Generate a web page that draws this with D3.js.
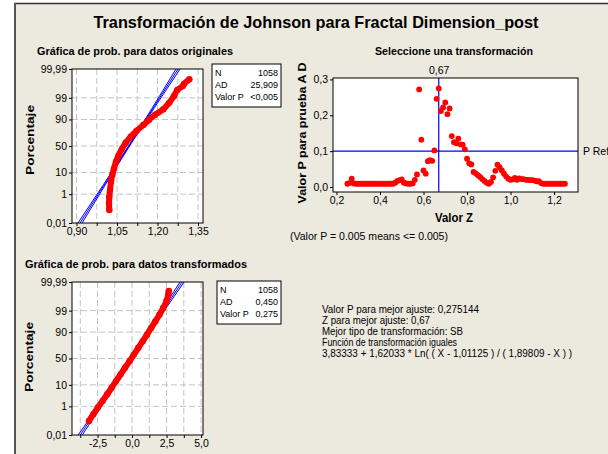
<!DOCTYPE html>
<html><head><meta charset="utf-8">
<script src="https://cdn.jsdelivr.net/npm/d3@7"></script>
<style>
body{margin:0;background:#fff}
svg{display:block}
text{font-family:"Liberation Sans",Arial,sans-serif;fill:#000}
</style>
</head><body>
<svg id="c" width="608" height="454"></svg>
<script>
// ---------------- DATA ----------------
const probTicks = [0.01, 1, 10, 50, 90, 99, 99.99];
const probLabels = ["0,01", "1", "10", "50", "90", "99", "99,99"];

// original data probability plot (value, percent)
const origValues   = [1.0215,1.0204,1.0215,1.024,1.0278,1.0326,1.0389,1.0463,1.0548,1.0674,1.0822,1.1007,1.123,1.1474,1.168,1.19,1.2215,1.2437,1.2611,1.2733,1.2933,1.298,1.3178];
const origPercents = [0.1,0.28,0.71,1.66,4.3,8.1,14,22.4,31.6,43.6,56.4,67.4,77,84.4,89.6,93.3,96.2,98.2,99.22,99.66,99.81,99.865,99.936];
const origXMajor = [0.90, 1.05, 1.20, 1.35];
const origXMinor = [0.975, 1.125, 1.275];
const fitPercents = [0.01, 50, 99.99];
const origFit   = [0.913, 1.0945, 1.276];
const origFitLo = [0.9055, 1.0925, 1.2685];
const origFitHi = [0.9205, 1.0965, 1.2835];

// transformed data probability plot
const transValues   = [-3.12,-2.80,-2.47,-2.13,-1.80,-1.48,-1.16,-0.83,-0.51,-0.18,0.13,0.45,0.77,1.08,1.38,1.68,1.98,2.25,2.48,2.62,2.66];
const transPercents = [0.12,0.34,0.87,1.97,4.09,7.78,13.57,22.06,32.64,44.83,57.53,69.85,79.95,87.7,93.06,96.41,98.34,99.29,99.72,99.9,99.948];
const transXMajor = [-2.5, 0, 2.5, 5];
const transXMinor = [-3.75, -1.25, 1.25, 3.75];
const transFit   = [-3.75, -0.065, 3.62];
const transFitLo = [-3.9, -0.11, 3.47];
const transFitHi = [-3.6, -0.02, 3.77];

// Z search: z values and AD p-values
const zValues = [0.25,0.26,0.27,0.28,0.29,0.30,0.31,0.32,0.33,0.34,0.35,0.36,0.37,0.38,0.39,0.40,0.41,0.42,0.43,0.44,0.45,0.46,0.47,0.48,0.49,0.50,0.51,0.52,0.53,0.54,0.55,0.56,0.57,0.58,0.59,0.60,0.61,0.62,0.63,0.64,0.65,0.66,0.67,0.68,0.69,0.70,0.71,0.72,0.73,0.74,0.75,0.76,0.77,0.78,0.79,0.80,0.81,0.82,0.83,0.84,0.85,0.86,0.87,0.88,0.89,0.90,0.91,0.92,0.93,0.94,0.95,0.96,0.97,0.98,0.99,1.00,1.01,1.02,1.03,1.04,1.05,1.06,1.07,1.08,1.09,1.10,1.11,1.12,1.13,1.14,1.15,1.16,1.17,1.18,1.19,1.20,1.21,1.22,1.23,1.24,1.25];
const pValues = [0.009,0.011,0.023,0.010,0.009,0.009,0.009,0.009,0.009,0.009,0.009,0.009,0.009,0.009,0.009,0.009,0.009,0.009,0.009,0.009,0.009,0.009,0.012,0.017,0.019,0.021,0.012,0.010,0.009,0.009,0.010,0.020,0.035,0.272,0.132,0.046,0.037,0.072,0.075,0.073,0.102,0.246,0.275,0.212,0.222,0.236,0.203,0.219,0.142,0.125,0.122,0.135,0.119,0.118,0.105,0.079,0.066,0.063,0.042,0.038,0.033,0.028,0.022,0.017,0.012,0.009,0.014,0.027,0.045,0.062,0.055,0.046,0.037,0.029,0.023,0.020,0.021,0.025,0.020,0.024,0.022,0.022,0.020,0.020,0.019,0.019,0.018,0.016,0.016,0.011,0.009,0.009,0.009,0.009,0.009,0.009,0.009,0.009,0.009,0.009,0.009];
const zTicks = [0.2, 0.4, 0.6, 0.8, 1.0, 1.2];
const pTicks = [0.0, 0.1, 0.2, 0.3];
const bestZ = 0.67;
const pRef = 0.1;

const statLabels = ["N", "AD", "Valor P"];
const origStats  = ["1058", "25,909", "<0,005"];
const transStats = ["1058", "0,450", "0,275"];

const infoLines = [
  "Valor P para mejor ajuste: 0,275144",
  "Z para mejor ajuste: 0,67",
  "Mejor tipo de transformación: SB",
  "Función de transformación iguales",
  "3,83333 + 1,62033 * Ln( ( X - 1,01125 ) / ( 1,89809 - X ) )"
];

// ---------------- HELPERS ----------------
function probit(p){
  const a=[-3.969683028665376e+01,2.209460984245205e+02,-2.759285104469687e+02,1.383577518672690e+02,-3.066479806614716e+01,2.506628277459239e+00];
  const b=[-5.447609879822406e+01,1.615858368580409e+02,-1.556989798598866e+02,6.680131188771972e+01,-1.328068155288572e+01];
  const c=[-7.784894002430293e-03,-3.223964580411365e-01,-2.400758277161838e+00,-2.549732539343734e+00,4.374664141464968e+00,2.938163982698783e+00];
  const d=[7.784695709041462e-03,3.224671290700398e-01,2.445134137142996e+00,3.754408661907416e+00];
  const pl=0.02425, ph=1-pl; let q,r;
  if(p<pl){q=Math.sqrt(-2*Math.log(p));return (((((c[0]*q+c[1])*q+c[2])*q+c[3])*q+c[4])*q+c[5])/((((d[0]*q+d[1])*q+d[2])*q+d[3])*q+1);}
  if(p>ph){q=Math.sqrt(-2*Math.log(1-p));return -(((((c[0]*q+c[1])*q+c[2])*q+c[3])*q+c[4])*q+c[5])/((((d[0]*q+d[1])*q+d[2])*q+d[3])*q+1);}
  q=p-0.5;r=q*q;return (((((a[0]*r+a[1])*r+a[2])*r+a[3])*r+a[4])*r+a[5])*q/(((((b[0]*r+b[1])*r+b[2])*r+b[3])*r+b[4])*r+1);
}
const fmt = (dec) => (v) => v.toFixed(dec).replace(".", ",");

const svg = d3.select("#c");
svg.append("rect").attr("width",608).attr("height",454).attr("fill","#fff");
svg.append("rect").attr("x",15).attr("y",3).attr("width",593).attr("height",451).attr("fill","#ECE9DF");
svg.append("line").attr("x1",14).attr("x2",608).attr("y1",3.5).attr("y2",3.5).attr("stroke","#333").attr("stroke-width",1.5);
svg.append("line").attr("x1",15).attr("x2",15).attr("y1",3).attr("y2",454).attr("stroke","#555").attr("stroke-width",2);

svg.append("text").attr("x",316).attr("y",28).attr("text-anchor","middle")
  .attr("font-size",16.5).attr("font-weight","bold")
  .attr("textLength",445).attr("lengthAdjust","spacingAndGlyphs")
  .text("Transformación de Johnson para Fractal Dimension_post");

const defs = svg.append("defs");

function styleAxis(g){
  g.select(".domain").remove();
  g.selectAll(".tick line").attr("stroke","#000");
  g.selectAll(".tick text").attr("font-size",10.5).attr("font-family","Liberation Sans, Arial, sans-serif").attr("fill","#000");
}

function probPlot(o){
  const {L,R,T,B,id} = o;
  const x = d3.scaleLinear().domain(o.xDomain).range([L,R]);
  const zs = d3.scaleLinear().domain([probit(0.0001), probit(0.9999)]).range([B,T]);
  const y = (p) => zs(probit(p/100));

  svg.append("text").attr("x",o.titleX).attr("y",o.titleY).attr("font-size",10).attr("font-weight","bold")
    .attr("textLength",o.titleLen).attr("lengthAdjust","spacingAndGlyphs").text(o.title);

  svg.append("rect").attr("x",L).attr("y",T).attr("width",R-L).attr("height",B-T).attr("fill","#fff");
  defs.append("clipPath").attr("id",id).append("rect").attr("x",L).attr("y",T).attr("width",R-L).attr("height",B-T);

  const grid = svg.append("g").attr("stroke","#C4C4C4").attr("stroke-dasharray","6,3").attr("stroke-width",1);
  o.xMajor.concat(o.xMinor).forEach(v=>{
    grid.append("line").attr("x1",x(v)).attr("x2",x(v)).attr("y1",T).attr("y2",B);
  });
  probTicks.slice(1,-1).forEach(p=>{
    grid.append("line").attr("x1",L).attr("x2",R).attr("y1",y(p)).attr("y2",y(p));
  });

  const cg = svg.append("g").attr("clip-path",`url(#${id})`);
  [o.fitLo,o.fit,o.fitHi].forEach(arr=>{
    const pts = fitPercents.map((p,i)=>[x(arr[i]), y(p)]);
    cg.append("path").attr("d",d3.line().curve(d3.curveMonotoneY)(pts)).attr("fill","none")
      .attr("stroke","#0000FF").attr("stroke-width",1);
  });
  const pts = o.values.map((v,i)=>[x(v), y(o.percents[i])]);
  cg.append("path").attr("d",d3.line().curve(d3.curveCatmullRom)(pts)).attr("fill","none")
    .attr("stroke","#FF0000").attr("stroke-width",6).attr("stroke-linecap","round");
  cg.selectAll("circle.d").data(pts).join("circle").attr("cx",d=>d[0]).attr("cy",d=>d[1]).attr("r",3.2).attr("fill","#FF0000");

  svg.append("rect").attr("x",L).attr("y",T).attr("width",R-L).attr("height",B-T)
    .attr("fill","none").attr("stroke","#000").attr("stroke-width",1);

  const ya = svg.append("g").attr("transform",`translate(${L},0)`)
    .call(d3.axisLeft(zs).tickValues(probTicks.map(p=>probit(p/100))).tickFormat((d,i)=>probLabels[i]).tickSize(3).tickPadding(2));
  styleAxis(ya);
  const xa = svg.append("g").attr("transform",`translate(0,${B})`)
    .call(d3.axisBottom(x).tickValues(o.xMajor).tickFormat(o.xFmt).tickSize(3).tickPadding(2));
  styleAxis(xa);
  const xm = svg.append("g").attr("transform",`translate(0,${B})`)
    .call(d3.axisBottom(x).tickValues(o.xMinor).tickFormat("").tickSize(3));
  styleAxis(xm);

  svg.append("text").attr("transform",`translate(${o.ylabX},${o.ylabY}) rotate(-90)`).attr("text-anchor","middle")
    .attr("font-size",11).attr("font-weight","bold").attr("textLength",70).attr("lengthAdjust","spacingAndGlyphs").text("Porcentaje");

  // stats box
  const bx = o.box;
  svg.append("rect").attr("x",bx[0]).attr("y",bx[1]).attr("width",bx[2]).attr("height",bx[3])
    .attr("fill","#fff").attr("stroke","#000").attr("stroke-width",1);
  statLabels.forEach((s,i)=>{
    svg.append("text").attr("x",bx[0]+3).attr("y",bx[1]+12+i*12).attr("font-size",9).text(s);
    svg.append("text").attr("x",bx[0]+bx[2]-3).attr("y",bx[1]+12+i*12).attr("font-size",9).attr("text-anchor","end").text(o.stats[i]);
  });
}

probPlot({id:"c1",L:72,R:203,T:69,B:223,xDomain:[0.8833,1.3685],xMajor:origXMajor,xMinor:origXMinor,xFmt:fmt(2),
  values:origValues,percents:origPercents,fit:origFit,fitLo:origFitLo,fitHi:origFitHi,
  title:"Gráfica de prob. para datos originales",titleX:37,titleY:55,titleLen:196,ylabX:34,ylabY:140,
  box:[212,64,69,43],stats:origStats});

probPlot({id:"c2",L:72,R:203,T:282,B:435,xDomain:[-4.35,5.14],xMajor:transXMajor,xMinor:transXMinor,xFmt:fmt(1),
  values:transValues,percents:transPercents,fit:transFit,fitLo:transFitLo,fitHi:transFitHi,
  title:"Gráfica de prob. para datos transformados",titleX:25,titleY:268,titleLen:222,ylabX:33,ylabY:357,
  box:[217,281,64,43],stats:transStats});

// ---------------- Z plot ----------------
(function(){
  const L=333,R=578,T=78,B=192;
  const x = d3.scaleLinear().domain([0.184,1.31]).range([L,R]);
  const y = d3.scaleLinear().domain([-0.014,0.304]).range([B,T]);
  svg.append("text").attr("x",454).attr("y",55).attr("text-anchor","middle").attr("font-size",10).attr("font-weight","bold")
    .attr("textLength",158).attr("lengthAdjust","spacingAndGlyphs").text("Seleccione una transformación");
  svg.append("rect").attr("x",L).attr("y",T).attr("width",R-L).attr("height",B-T).attr("fill","#fff");
  svg.append("line").attr("x1",x(bestZ)).attr("x2",x(bestZ)).attr("y1",T).attr("y2",B).attr("stroke","#0000FF").attr("stroke-width",1.2);
  svg.append("line").attr("x1",L).attr("x2",R).attr("y1",y(pRef)).attr("y2",y(pRef)).attr("stroke","#0000FF").attr("stroke-width",1.2);
  svg.append("g").selectAll("circle").data(zValues).join("circle")
    .attr("cx",d=>x(d)).attr("cy",(d,i)=>y(pValues[i])).attr("r",2.9).attr("fill","#FF0000");
  svg.append("rect").attr("x",L).attr("y",T).attr("width",R-L).attr("height",B-T).attr("fill","none").attr("stroke","#000");
  const ya = svg.append("g").attr("transform",`translate(${L},0)`)
    .call(d3.axisLeft(y).tickValues(pTicks).tickFormat(fmt(1)).tickSize(3).tickPadding(2));
  styleAxis(ya);
  const xa = svg.append("g").attr("transform",`translate(0,${B})`)
    .call(d3.axisBottom(x).tickValues(zTicks).tickFormat(fmt(1)).tickSize(3).tickPadding(2));
  styleAxis(xa);
  const ta = svg.append("g").attr("transform",`translate(0,${T})`)
    .call(d3.axisTop(x).tickValues([bestZ]).tickFormat(fmt(2)).tickSize(0).tickPadding(4));
  styleAxis(ta);
  svg.append("text").attr("x",R+5).attr("y",y(pRef)+4).attr("font-size",10.5).text("P Ref");
  svg.append("text").attr("transform",`translate(306,${(T+B)/2 - 2}) rotate(-90)`).attr("text-anchor","middle")
    .attr("font-size",11.5).attr("font-weight","bold").attr("textLength",141).attr("lengthAdjust","spacingAndGlyphs")
    .text("Valor P para prueba A D");
  svg.append("text").attr("x",454).attr("y",222).attr("text-anchor","middle").attr("font-size",12).attr("font-weight","bold")
    .attr("textLength",38).attr("lengthAdjust","spacingAndGlyphs").text("Valor Z");
  svg.append("text").attr("x",290).attr("y",240).attr("font-size",10.5)
    .attr("textLength",158).attr("lengthAdjust","spacingAndGlyphs").text("(Valor P = 0.005 means <= 0.005)");
})();

// info text (widths matched to the reference rendering)
const infoWidths = [157, 108, 141, 135, 250];
infoLines.forEach((s,i)=>{
  svg.append("text").attr("x",322).attr("y",313+i*10.9).attr("font-size",10)
    .attr("textLength",infoWidths[i]).attr("lengthAdjust","spacingAndGlyphs").text(s);
});
</script>
</body></html>
